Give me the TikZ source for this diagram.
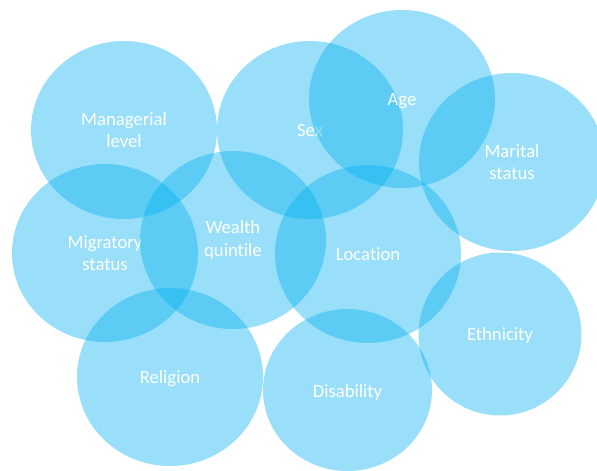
\documentclass[tikz,border=0pt]{standalone}
\usepackage{fontspec}
\setmainfont{Carlito}[Ligatures={NoCommon}]
\usetikzlibrary{shapes.geometric}
\definecolor{bubblue}{HTML}{00B0F0}
\tikzset{bubble/.style={ellipse, fill=bubblue, fill opacity=.4, text opacity=1, text=white,
  inner sep=0pt, minimum width=139.5pt, minimum height=133.5pt, align=center,
  font=\fontsize{14}{17}\selectfont},
  oneline/.style={text height=11pt, text depth=1pt}}

\begin{document}
\begin{tikzpicture}[x=.75pt, y=-.75pt]
\useasboundingbox (0,0) rectangle (597,471);
\clip (0,0) rectangle (597,471);
\node[bubble] (manag) at (124,130) {Managerial\\level};
\node[bubble, oneline] (sex) at (310,130) {Sex};
\node[bubble, oneline] (age) at (402,99) {Age};
\node[bubble] (marit) at (512,162) {Marital\\status};
\node[bubble] (migr) at (105,253) {Migratory\\status};
\node[bubble] (wealth) at (233,240) {Wealth\\quintile};
\node[bubble, oneline] (loc) at (368,254) {Location};
\node[bubble, oneline] (relig) at (170,377) {Religion};
% smaller ones
\node[bubble, oneline, text depth=-1pt, minimum width=126.75pt, minimum height=121.5pt] (disab) at (347.5,390) {Disability};
\node[bubble, oneline, minimum width=122.25pt, minimum height=122.25pt] (ethn) at (500,334) {Ethnicity};
\end{tikzpicture}
\end{document}
